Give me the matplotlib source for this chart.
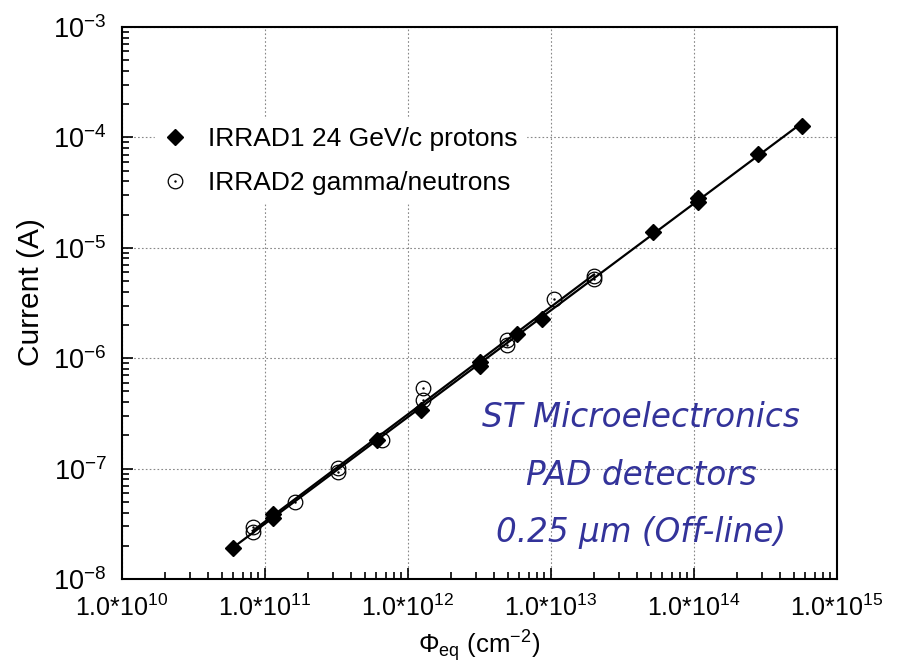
import numpy as np
import matplotlib
matplotlib.use("Agg")
import matplotlib.pyplot as plt
from matplotlib.ticker import FixedLocator, FixedFormatter, LogLocator, NullFormatter
from matplotlib.legend_handler import HandlerTuple

plt.rcParams['font.family'] = ['Liberation Sans', 'DejaVu Sans']
plt.rcParams['mathtext.fontset'] = 'custom'
plt.rcParams['mathtext.rm'] = 'Liberation Sans'
plt.rcParams['mathtext.it'] = 'Liberation Sans:italic'
plt.rcParams['mathtext.bf'] = 'Liberation Sans:bold'

# IRRAD1 24 GeV/c protons
proton_flux = [5.97e10, 1.14e11, 1.14e11, 6.07e11, 1.23e12, 3.18e12, 3.18e12,
               5.78e12, 8.65e12, 5.16e13, 1.07e14, 1.07e14, 2.80e14, 5.69e14]
proton_current = [1.91e-8, 3.55e-8, 3.85e-8, 1.80e-7, 3.40e-7, 8.5e-7, 9.2e-7,
                  1.65e-6, 2.26e-6, 1.39e-5, 2.60e-5, 2.85e-5, 7.10e-5, 1.28e-4]

# IRRAD2 gamma/neutrons
gamma_flux = [8.2e10, 8.2e10, 1.62e11, 3.24e11, 3.24e11, 6.58e11, 1.27e12, 1.27e12,
              4.92e12, 4.92e12, 1.05e13, 2.0e13, 2.0e13]
gamma_current = [2.96e-8, 2.67e-8, 5.0e-8, 1.01e-7, 9.3e-8, 1.82e-7, 5.37e-7, 4.18e-7,
                 1.45e-6, 1.33e-6, 3.44e-6, 5.2e-6, 5.6e-6]

x_ticks = [1e10, 1e11, 1e12, 1e13, 1e14, 1e15]
x_ticklabels = [r'$\mathregular{1.0{*}10^{10}}$', r'$\mathregular{1.0{*}10^{11}}$',
                r'$\mathregular{1.0{*}10^{12}}$', r'$\mathregular{1.0{*}10^{13}}$',
                r'$\mathregular{1.0{*}10^{14}}$', r'$\mathregular{1.0{*}10^{15}}$']
y_ticks = [1e-8, 1e-7, 1e-6, 1e-5, 1e-4, 1e-3]
y_ticklabels = [r'$\mathregular{10^{-8}}$', r'$\mathregular{10^{-7}}$', r'$\mathregular{10^{-6}}$',
                r'$\mathregular{10^{-5}}$', r'$\mathregular{10^{-4}}$', r'$\mathregular{10^{-3}}$']

annotation_lines = ['ST Microelectronics', 'PAD detectors', '0.25 \u00b5m (Off-line)']

fig = plt.figure(figsize=(9.05, 6.71), dpi=100)
ax = fig.add_axes([122/905, 1-579/671, (837-122)/905, (579-27)/671])
ax.set_xscale('log')
ax.set_yscale('log')
ax.set_xlim(1e10, 1e15)
ax.set_ylim(1e-8, 1e-3)

def fit_line(xs, ys):
    lx, ly = np.log10(xs), np.log10(ys)
    p = np.polyfit(lx, ly, 1)
    xx = np.array([min(xs), max(xs)])
    return xx, 10 ** np.polyval(p, np.log10(xx))

fx, fy = fit_line(proton_flux, proton_current)
ax.plot(fx, fy, color='black', lw=1.6, zorder=3)
gx, gy = fit_line(gamma_flux, gamma_current)
ax.plot(gx, gy, color='black', lw=1.6, zorder=3)

hp, = ax.plot(proton_flux, proton_current, linestyle='none', marker='D', ms=8.5,
              mfc='black', mec='black', zorder=5)
hc, = ax.plot(gamma_flux, gamma_current, linestyle='none', marker='o', ms=10.5,
              mfc='none', mec='black', mew=0.9, zorder=4)
hd, = ax.plot(gamma_flux, gamma_current, linestyle='none', marker='.', ms=1.5,
              color='black', zorder=4)

ax.xaxis.set_major_locator(FixedLocator(x_ticks))
ax.xaxis.set_major_formatter(FixedFormatter(x_ticklabels))
ax.yaxis.set_major_locator(FixedLocator(y_ticks))
ax.yaxis.set_major_formatter(FixedFormatter(y_ticklabels))
ax.xaxis.set_minor_locator(LogLocator(base=10, subs=np.arange(2, 10), numticks=20))
ax.yaxis.set_minor_locator(LogLocator(base=10, subs=np.arange(2, 10), numticks=20))
ax.xaxis.set_minor_formatter(NullFormatter())
ax.yaxis.set_minor_formatter(NullFormatter())

ax.tick_params(which='both', direction='in', top=False, right=False, width=1.2)
ax.tick_params(which='major', length=8)
ax.tick_params(which='minor', length=5)
ax.tick_params(axis='x', pad=11, labelsize=18)
ax.tick_params(axis='y', pad=11, labelsize=19.5)

for s in ax.spines.values():
    s.set_linewidth(1.5)

ax.grid(True, which='major', linestyle=(0, (1.5, 2)), color='#888888', lw=0.8, zorder=0)
ax.set_axisbelow(True)

ax.set_xlabel(r'$\mathregular{\Phi_{eq}\ (cm^{-2})}$', fontsize=18.5, labelpad=5)
ax.set_ylabel('Current (A)', fontsize=21.5)
ax.yaxis.set_label_coords(-0.107, 0.52)

leg = ax.legend([hp, (hc, hd)], ['IRRAD1 24 GeV/c protons', 'IRRAD2 gamma/neutrons'],
                handler_map={tuple: HandlerTuple(ndivide=1, pad=0)},
                loc='upper left', bbox_to_anchor=(0.046, 0.833), fontsize=19,
                frameon=True, facecolor='white', edgecolor='white', framealpha=1,
                handlelength=0.9, handletextpad=0.82, labelspacing=0.77, borderpad=0.3,
                borderaxespad=0.0)
leg.set_zorder(6)

for line, yb in zip(annotation_lines, [0.275, 0.170, 0.067]):
    ax.text(0.726, yb, line, transform=ax.transAxes, ha='center', va='baseline',
            fontsize=23.5, style='italic', color='#33339a', family=['DejaVu Sans'],
            zorder=7)

fig.savefig('out.png', dpi=100)
